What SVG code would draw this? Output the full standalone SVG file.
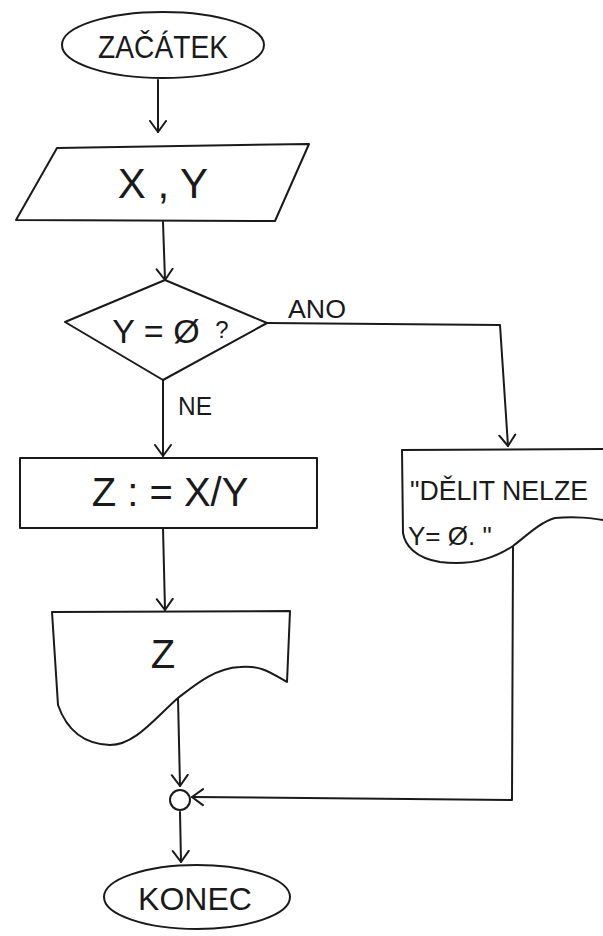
<svg xmlns="http://www.w3.org/2000/svg" width="603" height="936" viewBox="0 0 603 936">
<defs>
<marker id="v" viewBox="-12 -10 14 20" markerWidth="14" markerHeight="20" refX="0" refY="0" orient="auto" markerUnits="userSpaceOnUse">
<path d="M-11,-8 L0,0 L-11,8" fill="none" stroke="#1a1a1a" stroke-width="2" stroke-linecap="round" stroke-linejoin="round"/>
</marker>
<style>
.s{fill:#fff;stroke:#1a1a1a;stroke-width:2;stroke-linejoin:round}
.c{fill:none;stroke:#1a1a1a;stroke-width:2;stroke-linecap:round;stroke-linejoin:round}
.t{font-family:"Liberation Sans","DejaVu Sans",sans-serif;fill:#1a1a1a;font-weight:normal}
</style>
</defs>
<rect width="603" height="936" fill="#fff"/>
<g id="connectors">
<path class="c" d="M158,80 L158,132" marker-end="url(#v)"/>
<path class="c" d="M163,222 L165,280" marker-end="url(#v)"/>
<path class="c" d="M267,323 L500,325 L508,446" marker-end="url(#v)"/>
<path class="c" d="M163,380 L163,456" marker-end="url(#v)"/>
<path class="c" d="M163,528 L165,610" marker-end="url(#v)"/>
<path class="c" d="M178,698 L180,786" marker-end="url(#v)"/>
<path class="c" d="M513,546 L512,800 L192,797" marker-end="url(#v)"/>
<path class="c" d="M180,812 L181,862" marker-end="url(#v)"/>
<text class="t" x="288" y="318" font-size="26" textLength="58" lengthAdjust="spacingAndGlyphs">ANO</text>
<text class="t" x="178" y="415" font-size="26" textLength="34" lengthAdjust="spacingAndGlyphs">NE</text>
</g>
<g id="start">
<ellipse class="s" cx="163" cy="45" rx="101" ry="33"/>
<text class="t" x="163" y="58" font-size="32" text-anchor="middle" textLength="130" lengthAdjust="spacingAndGlyphs">ZAČÁTEK</text>
</g>
<g id="input">
<polygon class="s" points="57,148 309,144 275,221 16,220"/>
<text class="t" x="163" y="198" font-size="42" text-anchor="middle">X , Y</text>
</g>
<g id="decision">
<polygon class="s" points="165,280 267,323 163,380 65,322"/>
<text class="t" x="156" y="343" font-size="34" text-anchor="middle">Y = Ø</text>
<text class="t" x="222" y="338" font-size="24" text-anchor="middle">?</text>
</g>
<g id="compute">
<rect class="s" x="20" y="458" width="297" height="70"/>
<text class="t" x="170" y="506" font-size="40" text-anchor="middle">Z : = X/Y</text>
</g>
<g id="outputZ">
<path class="s" d="M52,612 L290,611 L287,682 C270,672 260,665 240,667 C215,668 195,685 178,698 C155,718 135,745 110,745 C80,744 65,725 58,705 Z"/>
<text class="t" x="163" y="668" font-size="40" text-anchor="middle">Z</text>
</g>
<g id="outputMsg">
<path class="s" d="M402,450 L610,449 L610,521 C590,518 575,516 555,518 C540,522 525,537 513,546 C495,558 470,566 440,562 C415,558 405,545 403,533 Z"/>
<text class="t" x="410" y="500" font-size="28" textLength="178" lengthAdjust="spacingAndGlyphs">"DĚLIT NELZE</text>
<text class="t" x="408" y="545" font-size="26">Y= Ø. "</text>
</g>
<g id="join">
<circle class="s" cx="180" cy="800" r="10"/>
</g>
<g id="end">
<ellipse class="s" cx="197" cy="897" rx="93" ry="32"/>
<text class="t" x="195" y="910" font-size="32" text-anchor="middle">KONEC</text>
</g>
</svg>
